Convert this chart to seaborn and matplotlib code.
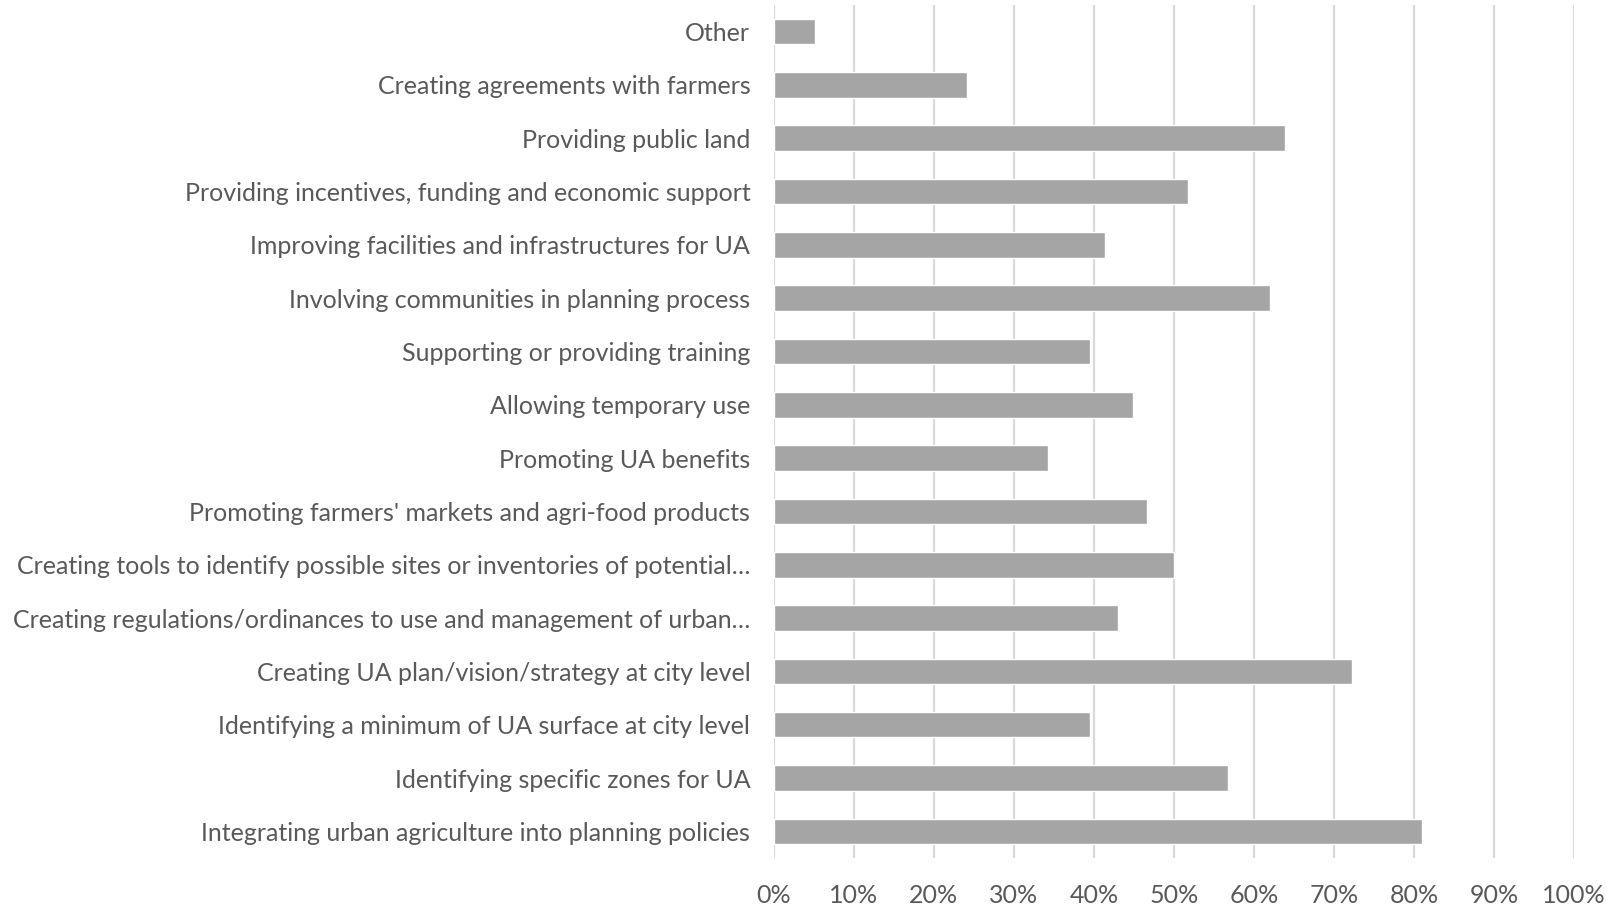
import matplotlib
matplotlib.use("Agg")
import matplotlib.pyplot as plt
import seaborn as sns
import pandas as pd
from matplotlib.ticker import PercentFormatter

categories = [
    "Other",
    "Creating agreements with farmers",
    "Providing public land",
    "Providing incentives, funding and economic support",
    "Improving facilities and infrastructures for UA",
    "Involving communities in planning process",
    "Supporting or providing training",
    "Allowing temporary use",
    "Promoting UA benefits",
    "Promoting farmers' markets and agri-food products",
    "Creating tools to identify possible sites or inventories of potential…",
    "Creating regulations/ordinances to use and management of urban…",
    "Creating UA plan/vision/strategy at city level",
    "Identifying a minimum of UA surface at city level",
    "Identifying specific zones for UA",
    "Integrating urban agriculture into planning policies",
]
values = [5.1, 24.1, 63.9, 51.7, 41.4, 62.0, 39.5, 44.9, 34.3, 46.6,
          50.0, 43.0, 72.3, 39.5, 56.8, 81.0]
x_ticks = [0, 10, 20, 30, 40, 50, 60, 70, 80, 90, 100]

sns.set_theme(style="white")
plt.rcParams['font.family'] = ['Lato', 'DejaVu Sans']

df = pd.DataFrame({"category": categories, "value": values})

fig = plt.figure(figsize=(16.08, 9.06), dpi=100)
ax = fig.add_axes([0.4813, 0.053, 0.4975, 0.9415])

sns.barplot(data=df, x="value", y="category", orient="h", color="#a5a5a5",
            saturation=1, width=0.48, ax=ax, zorder=3)

ax.set_xlim(0, 100)
ax.set_ylim(len(categories) - 0.5, -0.5)
ax.set_xticks(x_ticks)
ax.xaxis.set_major_formatter(PercentFormatter(decimals=0))
ax.grid(axis="x", color="#d9d9d9", linewidth=1.6, zorder=0)
ax.grid(axis="y", visible=False)
for s in ax.spines.values():
    s.set_visible(False)
ax.set_xlabel("")
ax.set_ylabel("")
ax.tick_params(axis="y", length=0, pad=17, labelsize=18.0, labelcolor="#595959")
ax.tick_params(axis="x", length=0, pad=19, labelsize=18.0, labelcolor="#595959")

fig.savefig("out.png", dpi=100, facecolor="white")
